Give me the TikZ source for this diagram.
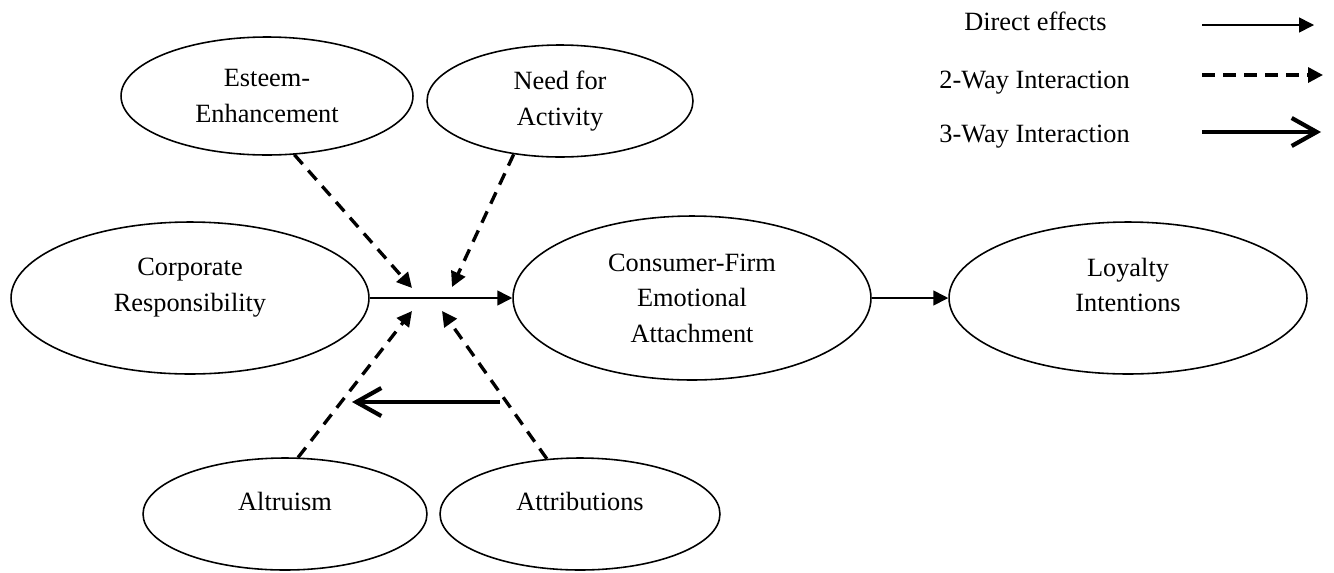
\documentclass[tikz,border=0pt]{standalone}
\usepackage{fontspec}
\setmainfont{Liberation Serif}
\usetikzlibrary{arrows.meta, positioning}
\usetikzlibrary{shapes.geometric}
\newcommand{\lowpad}{\rule[-0.52cm]{0pt}{0pt}}

\begin{document}
\begin{tikzpicture}[x=0.02cm, y=-0.02cm,
        every node/.style={font=\fontsize{15}{20.2}\selectfont},
        construct/.style={draw, ellipse, line width=0.9pt, inner sep=0mm, align=center},
        direct/.style={line width=0.9pt, -{Triangle[length=0.3cm, width=0.3cm]}},
        twoway/.style={line width=1.9pt, dash pattern=on 0.25cm off 0.17cm, -{Triangle[length=0.3cm, width=0.3cm]}},
        threeway/.style={line width=2.4pt, -{Straight Barb[length=0.5cm, width=0.56cm]}},
        legendtext/.style={anchor=base west, inner sep=0mm}]
        \useasboundingbox (0,0) rectangle (1334,572);
        \node[construct, minimum width=5.84cm, minimum height=2.36cm] at (267,96) (esteem) {Esteem-\\Enhancement};
        \node[construct, minimum width=5.32cm, minimum height=2.24cm] at (560,101) (need) {Need for\\Activity};
        \node[construct, minimum width=7.16cm, minimum height=3.04cm] at (190,298) (corp) {Corporate\\Responsibility\lowpad};
        \node[construct, minimum width=7.16cm, minimum height=3.28cm] at (692,298) (attach) {Consumer-Firm\\Emotional\\Attachment};
        \node[construct, minimum width=7.16cm, minimum height=3.04cm] at (1128,298) (loyal) {Loyalty\\Intentions\lowpad};
        \node[construct, minimum width=5.68cm, minimum height=2.24cm] at (285,514) (altru) {Altruism\lowpad};
        \node[construct, minimum width=5.6cm, minimum height=2.24cm] at (580,514) (attrib) {Attributions\lowpad};
        \coordinate (esteemtip) at (412,288);
        \coordinate (needtip) at (452,287);
        \coordinate (altrutip) at (412,311);
        \coordinate (attribtip) at (442,311);
        \coordinate (threestart) at (500,402);
        \coordinate (threeend) at (352,402);
        \draw[direct] (corp.east) -- (attach.west);
        \draw[direct] (attach.east) -- (loyal.west);
        \draw[twoway] (esteem.-65) -- (esteemtip);
        \draw[twoway] (need.-131) -- (needtip);
        \draw[twoway] (altru.77) -- (altrutip);
        \draw[twoway] (attrib.121) -- (attribtip);
        \draw[threeway] (threestart) -- (threeend);
        \node[legendtext] at (964,30) (legdirect) {Direct effects};
        \node[legendtext] at (939,88) (legtwo) {2-Way Interaction};
        \node[legendtext] at (939,142) (legthree) {3-Way Interaction};
        \coordinate (directa) at (1202,25);
        \coordinate (directb) at (1314,25);
        \coordinate (twoa) at (1202,75);
        \coordinate (twob) at (1323,75);
        \coordinate (threea) at (1202,132);
        \coordinate (threeb) at (1321,132);
        \draw[direct] (directa) -- (directb);
        \draw[twoway] (twoa) -- (twob);
        \draw[threeway] (threea) -- (threeb);
    \end{tikzpicture}
\end{document}
